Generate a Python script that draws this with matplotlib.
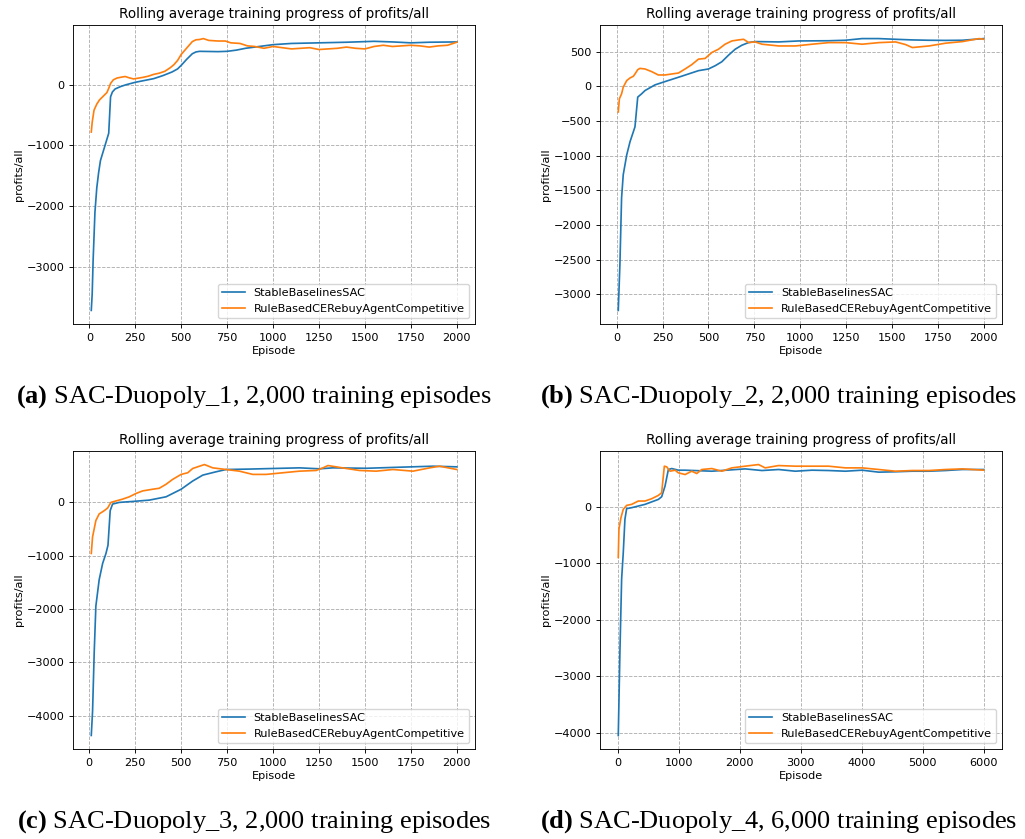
import numpy as np
import matplotlib
matplotlib.use('Agg')
import matplotlib.pyplot as plt

# rolling average profits/all per episode, read off the training logs
# --- SAC-Duopoly_1 ---
ep_sac_1 = [10, 15, 20, 30, 40, 50, 60, 75, 90, 100, 105, 115, 125, 140, 170, 200, 250, 300,
            350, 400, 450, 480, 500, 530, 560, 580, 600, 700, 750, 800, 850, 900, 1000, 1100,
            1250, 1400, 1550, 1650, 1750, 1850, 2000]
val_sac_1 = [-3720, -3450, -2900, -2100, -1700, -1450, -1250, -1100, -950, -850, -800, -200, -120,
             -70, -30, 0, 40, 70, 100, 150, 210, 260, 320, 420, 510, 540, 550, 545, 550, 570,
             600, 620, 660, 680, 690, 700, 715, 705, 690, 700, 705]
ep_rule_1 = [10, 15, 25, 40, 55, 75, 95, 105, 115, 130, 150, 175, 195, 215, 240, 260, 290, 320,
             350, 380, 410, 440, 460, 480, 500, 520, 540, 560, 580, 600, 620, 650, 700, 740, 770,
             820, 860, 900, 950, 1000, 1050, 1100, 1150, 1200, 1250, 1300, 1350, 1400, 1450,
             1500, 1550, 1600, 1650, 1700, 1750, 1800, 1850, 1900, 1950, 2000]
val_rule_1 = [-780, -620, -420, -320, -250, -190, -130, -60, 20, 80, 110, 125, 135, 115, 95, 105,
              120, 140, 170, 190, 220, 280, 330, 400, 500, 570, 640, 710, 740, 745, 760, 730, 720,
              720, 690, 680, 640, 630, 600, 630, 610, 590, 600, 610, 580, 590, 600, 620, 600, 590,
              630, 650, 630, 640, 650, 640, 620, 640, 650, 700]

# --- SAC-Duopoly_2 ---
ep_sac_2 = [9, 18, 27, 36, 55, 73, 91, 100, 115, 136, 155, 209, 264, 337, 391, 446, 500, 537,
            573, 610, 646, 682, 719, 755, 883, 992, 1156, 1246, 1337, 1428, 1519, 1610, 1701,
            1792, 1883, 2000]
val_sac_2 = [-3230, -2560, -1610, -1276, -990, -800, -657, -585, -157, -110, -62, 19, 67, 129,
             176, 224, 248, 295, 352, 448, 533, 590, 629, 643, 638, 652, 655, 662, 686, 686, 676,
             667, 662, 660, 662, 686]
ep_rule_2 = [9, 15, 27, 36, 55, 73, 91, 100, 115, 127, 155, 191, 227, 264, 300, 337, 373, 409,
             446, 482, 519, 555, 591, 628, 664, 692, 719, 755, 792, 883, 974, 1065, 1156, 1247,
             1338, 1429, 1520, 1574, 1611, 1702, 1793, 1884, 1975, 2000]
val_rule_2 = [-371, -181, -110, -14, 81, 119, 143, 176, 238, 257, 248, 210, 162, 162, 176, 190,
              248, 310, 390, 400, 486, 533, 605, 652, 667, 676, 629, 638, 605, 580, 580, 605,
              628, 628, 605, 628, 638, 600, 557, 580, 620, 643, 686, 676]

# --- SAC-Duopoly_3 ---
ep_sac_3 = [11, 18, 27, 36, 54, 73, 91, 102, 114, 127, 163, 236, 327, 418, 500, 563, 618, 690,
            745, 872, 999, 1144, 1253, 1326, 1508, 1689, 1871, 2000]
val_sac_3 = [-4370, -3920, -2810, -1944, -1450, -1142, -957, -802, -154, -31, 0, 18, 43, 105,
             247, 401, 512, 574, 617, 625, 636, 648, 630, 648, 640, 660, 679, 667]
ep_rule_3 = [11, 18, 36, 54, 82, 100, 118, 136, 182, 218, 254, 291, 345, 381, 418, 454, 500, 536,
             563, 600, 627, 672, 745, 817, 890, 963, 1054, 1144, 1235, 1272, 1299, 1344, 1399,
             1471, 1562, 1653, 1762, 1853, 1907, 2000]
val_rule_3 = [-957, -648, -340, -216, -154, -105, 0, 18, 62, 105, 167, 216, 247, 265, 340, 432,
              525, 556, 636, 679, 710, 648, 617, 586, 525, 525, 556, 586, 599, 648, 691, 667,
              636, 599, 586, 617, 586, 648, 679, 617]

# --- SAC-Duopoly_4 ---
ep_sac_4 = [11, 38, 66, 93, 120, 148, 230, 449, 668, 722, 777, 832, 887, 996, 1106, 1544, 2091,
            2365, 2638, 2912, 3186, 3459, 3733, 4007, 4280, 4554, 4828, 5102, 5375, 5649, 6000]
val_sac_4 = [-4050, -2570, -1276, -806, -218, -29, -12, 47, 135, 182, 370, 665, 682, 653, 653,
             635, 676, 647, 665, 635, 653, 647, 635, 653, 618, 625, 635, 635, 647, 665, 665]
ep_rule_4 = [11, 22, 55, 93, 148, 230, 339, 449, 558, 668, 722, 766, 805, 860, 942, 996, 1106,
             1215, 1297, 1379, 1544, 1708, 1872, 2091, 2310, 2419, 2638, 2912, 3186, 3459, 3733,
             4007, 4280, 4554, 4828, 5102, 5375, 5649, 6000]
val_rule_4 = [-894, -394, -188, -41, 29, 47, 106, 106, 147, 206, 253, 724, 712, 635, 653, 606,
              576, 635, 594, 665, 682, 635, 694, 724, 753, 694, 735, 724, 724, 724, 694, 694,
              665, 635, 647, 647, 665, 676, 653]

captions = [('(a)', 'SAC-Duopoly_1, 2,000 training episodes'),
            ('(b)', 'SAC-Duopoly_2, 2,000 training episodes'),
            ('(c)', 'SAC-Duopoly_3, 2,000 training episodes'),
            ('(d)', 'SAC-Duopoly_4, 6,000 training episodes')]

runs = [(ep_sac_1, val_sac_1, ep_rule_1, val_rule_1),
        (ep_sac_2, val_sac_2, ep_rule_2, val_rule_2),
        (ep_sac_3, val_sac_3, ep_rule_3, val_rule_3),
        (ep_sac_4, val_sac_4, ep_rule_4, val_rule_4)]

W, H = 1025, 839
s = 0.81  # each panel is a shrunk default-size figure
plt.rcParams.update({
    'font.size': 10 * s,
    'axes.titlesize': 12 * s,
    'axes.linewidth': 0.8 * s,
    'xtick.major.width': 0.8 * s,
    'ytick.major.width': 0.8 * s,
    'xtick.major.size': 3.5 * s,
    'ytick.major.size': 3.5 * s,
    'lines.linewidth': 1.5 * s,
    'mathtext.fontset': 'custom',
    'mathtext.rm': 'Liberation Serif',
    'mathtext.bf': 'Liberation Serif:bold',
})

fig = plt.figure(figsize=(W / 100, H / 100), dpi=100)

# axes boxes in pixels: left, top, right, bottom
boxes = [(73, 25, 475, 324), (600, 25, 1002, 324),
         (73, 451, 475, 749), (600, 451, 1002, 749)]
cap_pos = [(254, 397), (779, 397), (254, 822), (779, 822)]

for i, (box, run) in enumerate(zip(boxes, runs)):
    l, t, r, b = box
    ax = fig.add_axes([l / W, 1 - b / H, (r - l) / W, (b - t) / H])
    x1, y1, x2, y2 = run
    ax.plot(x1, y1, color='#1f77b4', label='StableBaselinesSAC')
    ax.plot(x2, y2, color='#ff7f0e', label='RuleBasedCERebuyAgentCompetitive')
    ax.grid(True, linestyle='--', linewidth=0.8 * s)
    ax.set_title('Rolling average training progress of profits/all', pad=6 * s)
    ax.set_xlabel('Episode', labelpad=2)
    ax.set_ylabel('profits/all', labelpad=2)
    ax.legend(loc='lower right')
    if i == 1:
        ax.set_yticks(np.arange(-3000, 501, 500))

    tag, text = captions[i]
    cx, cy = cap_pos[i]
    fig.text(cx / W, 1 - cy / H, r'$\mathbf{' + tag + '}$ ' + text, ha='center', va='center',
             fontsize=19, family='Liberation Serif')

fig.savefig('out.png', dpi=100)
